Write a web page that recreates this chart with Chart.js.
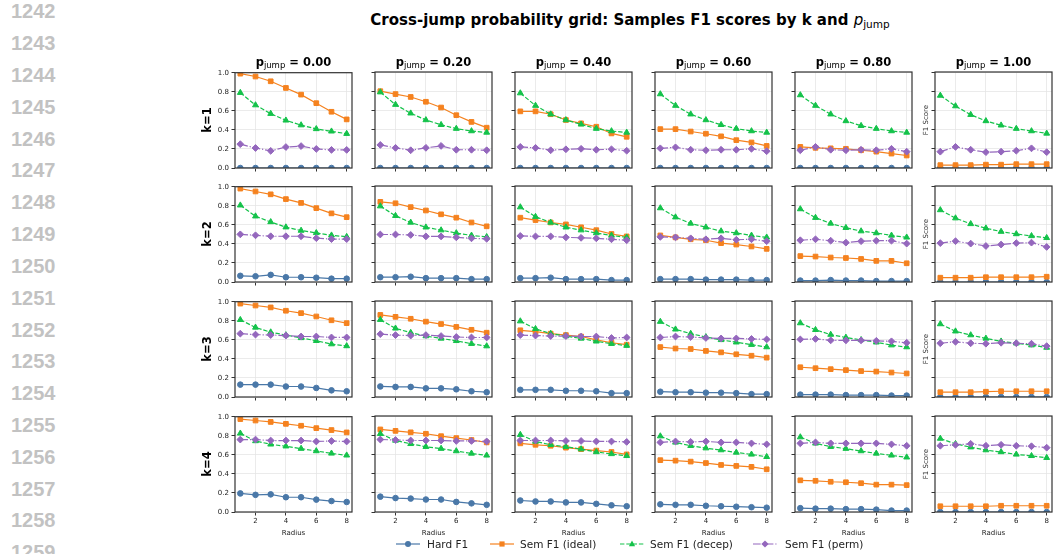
<!DOCTYPE html>
<html><head><meta charset="utf-8">
<script src="https://cdn.jsdelivr.net/npm/chart.js@4"></script>
<style>
html,body{margin:0;padding:0;background:#fff;}
body{width:1054px;height:554px;position:relative;overflow:hidden;font-family:'DejaVu Sans',sans-serif;color:#111;}
.ln{position:absolute;left:11px;font-family:'Liberation Sans',Arial,sans-serif;font-size:20px;font-weight:bold;color:#c2c2c2;line-height:20px;}
.panel{position:absolute;}
.coltitle{position:absolute;width:140px;text-align:center;font-weight:bold;font-size:11.5px;line-height:14px;white-space:nowrap;color:#000;}
.coltitle .sb{font-weight:normal;font-size:8.5px;position:relative;top:2px;}
.rowlab{position:absolute;width:60px;height:14px;line-height:14px;text-align:center;font-weight:bold;font-size:11.5px;transform:rotate(-90deg);color:#000;}
.f1lab{position:absolute;width:60px;height:10px;line-height:10px;text-align:center;font-size:7px;transform:rotate(-90deg);color:#333;}
#title{position:absolute;left:280px;width:700px;top:11px;text-align:center;font-weight:bold;font-size:15px;line-height:18px;white-space:nowrap;color:#000;}
#title .m{font-weight:normal;font-style:italic;}
#title .ms{font-weight:normal;font-size:10.5px;position:relative;top:3px;}
.leg{position:absolute;top:537px;height:14px;font-size:10.5px;line-height:14px;color:#222;white-space:nowrap;}
.leg svg{position:absolute;top:2px;}
</style>
</head><body>
<div id="title">Cross-jump probability grid: Samples F1 scores by k and <span class="m">p</span><span class="ms">jump</span></div>
<script>
// ---------------- data ----------------
const radius = [1, 2, 3, 4, 5, 6, 7, 8];
const pJumpLabels = ['0.00', '0.20', '0.40', '0.60', '0.80', '1.00'];
const kLabels = ['k=1', 'k=2', 'k=3', 'k=4'];
const xTicks = [2, 4, 6, 8];
const yTicks = [0.0, 0.2, 0.4, 0.6, 0.8, 1.0];
const lineNumbers = [1242,1243,1244,1245,1246,1247,1248,1249,1250,1251,1252,1253,1254,1255,1256,1257,1258,1259];
const seriesNames = ['Hard F1', 'Sem F1 (ideal)', 'Sem F1 (decep)', 'Sem F1 (perm)'];

// each array: one row per p_jump (0.00 .. 1.00), 8 radius values
const hardK1 = [
  [0,0,0,0,0,0,0,0],[0,0,0,0,0,0,0,0],[0,0,0,0,0,0,0,0],
  [0,0,0,0,0,0,0,0],[0,0,0,0,0,0,0,0],[0,0,0,0,0,0,0,0]];
const idealK1 = [
  [0.99,0.96,0.91,0.84,0.77,0.68,0.59,0.51],
  [0.80,0.77,0.74,0.69,0.63,0.55,0.48,0.42],
  [0.59,0.59,0.56,0.50,0.465,0.43,0.36,0.325],
  [0.405,0.405,0.38,0.357,0.33,0.29,0.266,0.23],
  [0.22,0.21,0.205,0.20,0.185,0.17,0.15,0.13],
  [0.03,0.03,0.03,0.035,0.035,0.04,0.04,0.04]];
const decepK1 = [
  [0.79,0.66,0.57,0.50,0.45,0.41,0.385,0.36],
  [0.79,0.66,0.57,0.50,0.45,0.41,0.385,0.37],
  [0.78,0.65,0.56,0.50,0.455,0.41,0.385,0.37],
  [0.77,0.65,0.56,0.50,0.45,0.41,0.385,0.37],
  [0.76,0.65,0.56,0.49,0.44,0.41,0.385,0.37],
  [0.755,0.645,0.555,0.49,0.445,0.41,0.385,0.36]];
const permK1 = [
  [0.25,0.21,0.18,0.22,0.23,0.20,0.19,0.19],
  [0.24,0.21,0.185,0.21,0.23,0.19,0.19,0.185],
  [0.22,0.21,0.185,0.195,0.20,0.19,0.195,0.18],
  [0.205,0.215,0.19,0.185,0.19,0.19,0.20,0.175],
  [0.185,0.22,0.19,0.185,0.19,0.185,0.20,0.17],
  [0.17,0.22,0.19,0.165,0.17,0.18,0.205,0.165]];

const hardK2 = [
  [0.065,0.06,0.075,0.05,0.05,0.045,0.035,0.035],
  [0.05,0.05,0.055,0.04,0.04,0.04,0.03,0.03],
  [0.04,0.04,0.045,0.03,0.03,0.03,0.02,0.02],
  [0.03,0.03,0.03,0.025,0.025,0.025,0.02,0.02],
  [0.015,0.015,0.02,0.015,0.015,0.01,0.01,0.01],
  [0,0,0,0,0,0,0,0]];
const idealK2 = [
  [0.98,0.95,0.92,0.87,0.83,0.775,0.72,0.68],
  [0.835,0.82,0.78,0.745,0.705,0.67,0.62,0.58],
  [0.67,0.645,0.62,0.60,0.57,0.54,0.50,0.475],
  [0.485,0.465,0.445,0.435,0.405,0.39,0.37,0.345],
  [0.27,0.265,0.255,0.25,0.24,0.22,0.22,0.195],
  [0.045,0.045,0.045,0.05,0.05,0.05,0.05,0.055]];
const decepK2 = [
  [0.805,0.69,0.63,0.575,0.54,0.515,0.49,0.475],
  [0.79,0.69,0.62,0.57,0.54,0.51,0.485,0.47],
  [0.78,0.68,0.62,0.57,0.54,0.51,0.485,0.465],
  [0.77,0.675,0.61,0.57,0.53,0.51,0.485,0.465],
  [0.76,0.67,0.61,0.565,0.53,0.51,0.485,0.465],
  [0.75,0.665,0.605,0.56,0.525,0.50,0.48,0.46]];
const permK2 = [
  [0.50,0.49,0.48,0.48,0.48,0.46,0.45,0.45],
  [0.495,0.495,0.49,0.475,0.475,0.465,0.455,0.45],
  [0.48,0.475,0.475,0.465,0.46,0.455,0.445,0.435],
  [0.47,0.465,0.455,0.445,0.455,0.44,0.445,0.425],
  [0.435,0.445,0.43,0.41,0.425,0.43,0.43,0.40],
  [0.405,0.425,0.40,0.375,0.39,0.405,0.41,0.365]];

const hardK3 = [
  [0.13,0.13,0.13,0.11,0.11,0.095,0.07,0.06],
  [0.11,0.105,0.105,0.09,0.09,0.08,0.06,0.05],
  [0.075,0.075,0.075,0.065,0.065,0.06,0.04,0.04],
  [0.055,0.05,0.05,0.045,0.045,0.04,0.03,0.03],
  [0.025,0.025,0.025,0.02,0.02,0.02,0.015,0.015],
  [0,0,0,0,0,0,0,0]];
const idealK3 = [
  [0.98,0.96,0.94,0.905,0.88,0.845,0.805,0.775],
  [0.855,0.835,0.815,0.785,0.76,0.73,0.70,0.67],
  [0.695,0.68,0.66,0.645,0.63,0.595,0.565,0.545],
  [0.52,0.505,0.50,0.48,0.465,0.445,0.43,0.41],
  [0.31,0.30,0.29,0.28,0.27,0.265,0.255,0.245],
  [0.05,0.05,0.05,0.055,0.06,0.06,0.06,0.06]];
const decepK3 = [
  [0.81,0.73,0.68,0.65,0.62,0.59,0.555,0.535],
  [0.805,0.715,0.67,0.635,0.61,0.585,0.555,0.53],
  [0.79,0.71,0.66,0.635,0.61,0.58,0.555,0.535],
  [0.785,0.705,0.66,0.625,0.595,0.57,0.545,0.52],
  [0.77,0.70,0.65,0.62,0.595,0.57,0.54,0.52],
  [0.76,0.685,0.645,0.61,0.58,0.56,0.54,0.515]];
const permK3 = [
  [0.665,0.655,0.65,0.645,0.635,0.635,0.625,0.625],
  [0.655,0.645,0.64,0.645,0.635,0.625,0.62,0.62],
  [0.645,0.64,0.635,0.635,0.63,0.63,0.615,0.62],
  [0.62,0.63,0.625,0.615,0.61,0.61,0.605,0.60],
  [0.60,0.605,0.59,0.59,0.59,0.585,0.58,0.565],
  [0.56,0.575,0.56,0.555,0.565,0.56,0.555,0.53]];

const hardK4 = [
  [0.195,0.18,0.185,0.155,0.155,0.13,0.115,0.105],
  [0.16,0.145,0.14,0.13,0.13,0.105,0.09,0.075],
  [0.12,0.11,0.11,0.10,0.10,0.085,0.07,0.06],
  [0.08,0.075,0.075,0.065,0.06,0.055,0.05,0.045],
  [0.04,0.035,0.035,0.03,0.03,0.025,0.015,0.015],
  [0,0,0,0,0,0,0,0]];
const idealK4 = [
  [0.975,0.96,0.945,0.925,0.905,0.88,0.86,0.835],
  [0.86,0.845,0.83,0.815,0.79,0.77,0.75,0.725],
  [0.715,0.70,0.69,0.67,0.655,0.64,0.625,0.60],
  [0.54,0.535,0.525,0.51,0.49,0.48,0.47,0.445],
  [0.33,0.325,0.315,0.31,0.30,0.285,0.285,0.28],
  [0.06,0.06,0.06,0.06,0.065,0.065,0.065,0.065]];
const decepK4 = [
  [0.825,0.745,0.71,0.69,0.665,0.64,0.615,0.595],
  [0.815,0.745,0.71,0.68,0.66,0.635,0.61,0.59],
  [0.805,0.735,0.70,0.68,0.655,0.625,0.605,0.585],
  [0.79,0.725,0.69,0.665,0.645,0.62,0.60,0.575],
  [0.78,0.715,0.68,0.66,0.635,0.61,0.59,0.57],
  [0.765,0.71,0.675,0.645,0.625,0.60,0.585,0.565]];
const permK4 = [
  [0.76,0.76,0.75,0.75,0.75,0.74,0.745,0.74],
  [0.755,0.75,0.745,0.745,0.745,0.74,0.74,0.735],
  [0.745,0.745,0.745,0.74,0.74,0.735,0.735,0.73],
  [0.725,0.735,0.73,0.735,0.725,0.725,0.715,0.705],
  [0.715,0.725,0.715,0.715,0.715,0.715,0.705,0.69],
  [0.69,0.70,0.71,0.69,0.70,0.69,0.685,0.67]];

const hardByK = [hardK1, hardK2, hardK3, hardK4];
const idealByK = [idealK1, idealK2, idealK3, idealK4];
const decepByK = [decepK1, decepK2, decepK3, decepK4];
const permByK = [permK1, permK2, permK3, permK4];

// ---------------- styles / layout ----------------
const COLORS = {hard:'#4a78a8', ideal:'#f5821f', decep:'#14c24a', perm:'#9467bd'};
const DASH = {hard:[], ideal:[], decep:[4.4,1.9], perm:[7.7,1.9,1.2,1.9]};
const MARK = {hard:'circle', ideal:'rect', decep:'triangle', perm:'rectRot'};
const MRAD = {hard:2.8, ideal:3.3, decep:3.4, perm:3.4};
const COL_LEFT0 = 235, COL_STEP = 140, PW = 117;
const ROW_TOP = [72, 186, 301, 416], PH = 96;
const PAD_L = 40, PAD_T = 6, PAD_R = 8, XH = 28;

// line numbers
lineNumbers.forEach((n, i) => {
  const d = document.createElement('div');
  d.className = 'ln';
  d.textContent = n;
  d.style.top = (11.2 + 31.83 * i - 10) + 'px';
  document.body.appendChild(d);
});

const spines = {
  id: 'spines',
  afterDatasetsDraw(chart) {
    const {ctx, chartArea: a} = chart;
    ctx.save();
    ctx.strokeStyle = '#333';
    ctx.lineWidth = 1.2;
    ctx.strokeRect(a.left, a.top, a.right - a.left, a.bottom - a.top);
    ctx.restore();
  }
};

function ds(key, label, arr, order) {
  return {
    label, order,
    data: radius.map((x, i) => ({x, y: arr[i]})),
    borderColor: COLORS[key], backgroundColor: COLORS[key],
    borderWidth: 1.2, borderDash: DASH[key],
    pointStyle: MARK[key], pointRadius: MRAD[key], pointBorderWidth: 1,
    pointBackgroundColor: COLORS[key], pointBorderColor: COLORS[key],
    tension: 0
  };
}

const gridOpts = {color:'#e6e6e6', lineWidth:0.8, drawTicks:true, tickLength:3.5, tickColor:'#333', tickWidth:1};
const tickFont = {size:7, family:'DejaVu Sans'};

for (let r = 0; r < 4; r++) {
  for (let c = 0; c < 6; c++) {
    const L = COL_LEFT0 + COL_STEP * c, T = ROW_TOP[r];
    const wrap = document.createElement('div');
    wrap.className = 'panel';
    wrap.style.left = (L - PAD_L) + 'px';
    wrap.style.top = (T - PAD_T) + 'px';
    const cv = document.createElement('canvas');
    const W = PW + PAD_L + PAD_R, H = PH + PAD_T + XH;
    cv.width = W; cv.height = H;
    cv.style.width = W + 'px'; cv.style.height = H + 'px';
    wrap.appendChild(cv);
    document.body.appendChild(wrap);
    const isBottom = r === 3;
    new Chart(cv, {
      type: 'line',
      data: {datasets: [
        ds('hard', seriesNames[0], hardByK[r][c], 4),
        ds('ideal', seriesNames[1], idealByK[r][c], 3),
        ds('decep', seriesNames[2], decepByK[r][c], 2),
        ds('perm', seriesNames[3], permByK[r][c], 1)
      ]},
      options: {
        responsive: false, animation: false, devicePixelRatio: 1, events: [],
        layout: {padding: {left:0, top:PAD_T, right:PAD_R, bottom:0}},
        plugins: {legend:{display:false}, tooltip:{enabled:false}},
        scales: {
          x: {
            type:'linear', min:0.65, max:8.35,
            afterBuildTicks: s => { s.ticks = xTicks.map(v => ({value:v})); },
            afterFit: s => { s.height = XH; },
            grid: gridOpts, border: {display:false},
            ticks: {display:isBottom, font:tickFont, color:'#222', padding:1, maxRotation:0, autoSkip:false, callback: v => String(v)},
            title: {display:isBottom, text:'Radius', font:tickFont, color:'#222', padding:{top:0, bottom:3}}
          },
          y: {
            min:0, max:1,
            afterBuildTicks: s => { s.ticks = yTicks.map(v => ({value:v})); },
            afterFit: s => { s.width = PAD_L; },
            grid: gridOpts, border: {display:false},
            ticks: {display:c === 0, font:tickFont, color:'#222', padding:2.5, autoSkip:false, callback: v => Number(v).toFixed(1)}
          }
        }
      },
      plugins: [spines]
    });
  }
}

// column titles
pJumpLabels.forEach((p, c) => {
  const d = document.createElement('div');
  d.className = 'coltitle';
  d.style.left = (COL_LEFT0 + COL_STEP * c + PW / 2 - 70) + 'px';
  d.style.top = '55px';
  d.innerHTML = 'p<span class="sb">jump</span> = ' + p;
  document.body.appendChild(d);
});
// row labels + F1 Score labels
kLabels.forEach((k, r) => {
  const cy = ROW_TOP[r] + PH / 2;
  const d = document.createElement('div');
  d.className = 'rowlab';
  d.textContent = k;
  d.style.left = (207 - 30) + 'px';
  d.style.top = (cy - 7) + 'px';
  document.body.appendChild(d);
  const f = document.createElement('div');
  f.className = 'f1lab';
  f.textContent = 'F1 Score';
  f.style.left = (926 - 30) + 'px';
  f.style.top = (cy - 5) + 'px';
  document.body.appendChild(f);
});

// legend
const legendPos = [[396, 427], [490, 520], [620, 650], [753, 785]];
const keys = ['hard', 'ideal', 'decep', 'perm'];
function markerSvg(key, cx, cy) {
  const col = COLORS[key];
  if (key === 'hard') return `<circle cx="${cx}" cy="${cy}" r="3" fill="${col}"/>`;
  if (key === 'ideal') return `<rect x="${cx-2.6}" y="${cy-2.6}" width="5.2" height="5.2" fill="${col}"/>`;
  if (key === 'decep') return `<polygon points="${cx},${cy-3.4} ${cx+3.1},${cy+2.2} ${cx-3.1},${cy+2.2}" fill="${col}"/>`;
  return `<polygon points="${cx},${cy-3.6} ${cx+3.6},${cy} ${cx},${cy+3.6} ${cx-3.6},${cy}" fill="${col}"/>`;
}
keys.forEach((key, i) => {
  const [hx, tx] = legendPos[i];
  const d = document.createElement('div');
  d.className = 'leg';
  d.style.left = hx + 'px';
  const dash = DASH[key].length ? `stroke-dasharray="${DASH[key].join(' ')}"` : '';
  d.innerHTML = `<svg width="24" height="10" viewBox="0 0 24 10"><line x1="0" y1="5" x2="24" y2="5" stroke="${COLORS[key]}" stroke-width="1.2" ${dash}/>${markerSvg(key, 12, 5)}</svg><span style="position:absolute;left:${tx - hx}px;top:0">${seriesNames[i]}</span>`;
  document.body.appendChild(d);
});
</script>
</body></html>
